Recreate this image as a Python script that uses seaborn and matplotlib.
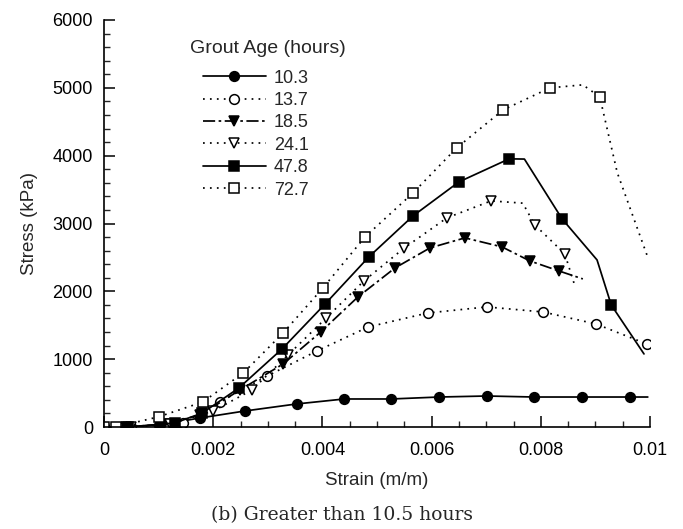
import matplotlib
matplotlib.use("Agg")
import matplotlib.pyplot as plt
import seaborn as sns
import numpy as np
from matplotlib.ticker import MultipleLocator

sns.set_style("ticks")
plt.rcParams["font.family"] = ["Liberation Sans", "DejaVu Sans"]

# ---- data ----
ages = ["10.3", "13.7", "18.5", "24.1", "47.8", "72.7"]

x_103 = [0.0, 0.0004, 0.0010, 0.00176, 0.00258, 0.00353, 0.00440, 0.00526, 0.00614, 0.00701, 0.00788, 0.00875, 0.00963, 0.00996]
y_103 = [0, 0, 30, 133, 236, 340, 413, 413, 442, 457, 442, 442, 442, 442]
m_103 = [0, 1, 2, 3, 4, 5, 6, 7, 8, 9, 10, 11, 12]

x_137 = [0.0, 0.0005, 0.00145, 0.00212, 0.00299, 0.00390, 0.00484, 0.00593, 0.00701, 0.00804, 0.00901, 0.00994]
y_137 = [0, 0, 59, 369, 752, 1121, 1475, 1681, 1770, 1696, 1519, 1224]
m_137 = [0, 1, 2, 3, 4, 5, 6, 7, 8, 9, 10, 11]

x_185 = [0.0, 0.0004, 0.0011, 0.00176, 0.00249, 0.00328, 0.00397, 0.00465, 0.00533, 0.00597, 0.00661, 0.00729, 0.00780, 0.00833, 0.00877]
y_185 = [0, 0, 40, 177, 546, 929, 1401, 1917, 2345, 2640, 2788, 2655, 2448, 2301, 2183]
m_185 = [1, 2, 3, 4, 5, 6, 7, 8, 9, 10, 11, 12, 13]

x_241 = [0.0, 0.0005, 0.0012, 0.00200, 0.00271, 0.00337, 0.00407, 0.00476, 0.00550, 0.00628, 0.00709, 0.00767, 0.00789, 0.00844, 0.00863]
y_241 = [0, 0, 40, 236, 546, 1062, 1608, 2153, 2640, 3083, 3333, 3300, 2979, 2552, 2065]
m_241 = [1, 2, 3, 4, 5, 6, 7, 8, 9, 10, 12, 13]

x_478 = [0.0, 0.00044, 0.0013, 0.00180, 0.00247, 0.00326, 0.00405, 0.00485, 0.00566, 0.00650, 0.00742, 0.00770, 0.00839, 0.00903, 0.00929, 0.00989]
y_478 = [0, 0, 60, 206, 575, 1150, 1814, 2507, 3112, 3613, 3953, 3950, 3068, 2463, 1799, 1077]
m_478 = [1, 2, 3, 4, 5, 6, 7, 8, 9, 10, 12, 14]

x_727 = [0.0, 0.00022, 0.0010, 0.00181, 0.00255, 0.00328, 0.00401, 0.00478, 0.00566, 0.00646, 0.00731, 0.00817, 0.00877, 0.00908, 0.00940, 0.00996]
y_727 = [0, 0, 150, 369, 796, 1386, 2050, 2802, 3451, 4115, 4675, 5000, 5044, 4867, 3750, 2500]
m_727 = [0, 1, 2, 3, 4, 5, 6, 7, 8, 9, 10, 11, 13]

x_ticks = [0, 0.002, 0.004, 0.006, 0.008, 0.01]
x_ticklabels = ["0", "0.002", "0.004", "0.006", "0.008", "0.01"]
y_ticks = [0, 1000, 2000, 3000, 4000, 5000, 6000]
y_ticklabels = ["0", "1000", "2000", "3000", "4000", "5000", "6000"]

series = [
    (x_103, y_103, m_103, "o", "black", "-"),
    (x_137, y_137, m_137, "o", "white", (0, (1, 3))),
    (x_185, y_185, m_185, "v", "black", (0, (7, 2, 1.5, 2))),
    (x_241, y_241, m_241, "v", "white", (0, (1, 3))),
    (x_478, y_478, m_478, "s", "black", "-"),
    (x_727, y_727, m_727, "s", "white", (0, (1, 3))),
]

fig = plt.figure(figsize=(6.83, 5.29), dpi=100)
ax = fig.add_axes([104 / 683, 1 - 427 / 529, 546 / 683, 407 / 529])

for (xs, ys, mk, marker, face, ls), lab in zip(series, ages):
    sns.lineplot(x=xs, y=ys, ax=ax, estimator=None, sort=False,
                 color="black", linestyle=ls, linewidth=1.25,
                 marker=marker, markevery=mk, markersize=7,
                 markerfacecolor=face, markeredgecolor="black",
                 markeredgewidth=1.1, label=lab)

ax.set_xlim(0, 0.01)
ax.set_ylim(0, 6000)
ax.set_xticks(x_ticks)
ax.set_xticklabels(x_ticklabels)
ax.set_yticks(y_ticks)
ax.set_yticklabels(y_ticklabels)
ax.xaxis.set_minor_locator(MultipleLocator(0.0005))
ax.yaxis.set_minor_locator(MultipleLocator(200))
ax.tick_params(which="major", direction="in", length=8, width=1.1,
               labelsize=13, colors="black")
ax.tick_params(axis="x", which="major", pad=11)
ax.tick_params(axis="y", which="major", pad=8)
ax.tick_params(which="minor", direction="in", length=4.5, width=1.0)
for s in ["top", "right"]:
    ax.spines[s].set_visible(False)
for s in ["left", "bottom"]:
    ax.spines[s].set_linewidth(1.2)
    ax.spines[s].set_color("black")

ax.set_xlabel("Strain (m/m)", fontsize=13.5, labelpad=9)
ax.set_ylabel("Stress (kPa)", fontsize=13.5, labelpad=10)

leg = ax.legend(title="Grout Age (hours)", loc="upper left",
                bbox_to_anchor=(190 / 683, 1 - 40 / 529),
                bbox_transform=fig.transFigure, frameon=False,
                fontsize=13, title_fontsize=14, handlelength=3.5,
                labelspacing=0.3, handletextpad=0.45, borderpad=0,
                borderaxespad=0)
leg._legend_box.align = "left"
leg._legend_box.sep = 0
leg._legend_handle_box.pad = 9

fig.text(342 / 683, 1 - 515 / 529, "(b) Greater than 10.5 hours",
         ha="center", va="center", fontsize=13.5,
         family=["DejaVu Serif"])

fig.savefig("out.png", dpi=100)
